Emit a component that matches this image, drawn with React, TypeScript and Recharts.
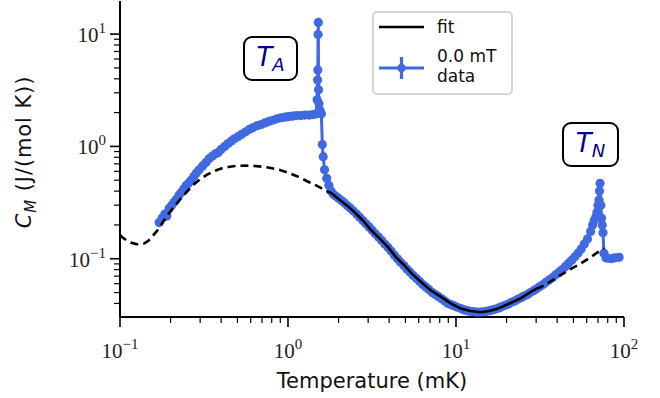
import React from 'react';
import { ComposedChart, Line, XAxis, YAxis } from 'recharts';

// measured heat capacity, 0.0 mT
const dataT = [
  0.171, 0.178, 0.185, 0.19, 0.196, 0.203, 0.21, 0.217, 0.225, 0.232, 0.24, 0.248, 0.256, 0.265, 0.275, 0.285,
  0.296, 0.31, 0.325, 0.34, 0.355, 0.37, 0.383, 0.4, 0.42, 0.44, 0.46, 0.48, 0.504, 0.53, 0.56, 0.59, 0.62,
  0.655, 0.69, 0.73, 0.77, 0.81, 0.86, 0.91, 0.96, 1.0, 1.06, 1.12, 1.19, 1.26, 1.34, 1.41, 1.47,
  1.49, 1.5, 1.505, 1.51, 1.515, 1.52, 1.53, 1.55, 1.58, 1.6, 1.62, 1.65, 1.7, 1.75, 1.8,
  1.86, 1.93, 2.0, 2.08, 2.16, 2.25, 2.35, 2.45, 2.56, 2.67, 2.79, 2.91, 3.04, 3.17, 3.31, 3.46, 3.61, 3.77,
  3.94, 4.11, 4.29, 4.48, 4.68, 4.89, 5.1, 5.33, 5.56, 5.81, 6.07, 6.34, 6.62, 6.91, 7.22, 7.54, 7.87, 8.22,
  8.58, 8.96, 9.36, 9.77, 10.2, 10.7, 11.2, 11.7, 12.2, 12.7, 13.3, 13.9, 14.5, 15.1, 15.8, 16.5, 17.2, 18.0,
  18.8, 19.6, 20.5, 21.4, 22.3, 23.3, 24.4, 25.4, 26.6, 27.7, 29.0, 30.2,
  31.6, 33.0, 34.4, 36.0, 37.6, 39.2, 41.0, 42.8, 44.7, 46.7, 48.8, 51.0, 53.2, 55.6, 58.0, 60.6, 63.3, 65.0,
  66.5, 68.0, 69.0, 70.0, 71.0, 71.5, 72.0, 72.8, 73.5, 74.2, 75.0, 76.0, 78.0, 80.0, 84.0, 88.0, 93.5,
];
const dataC = [
  0.21, 0.23, 0.25, 0.24, 0.28, 0.3, 0.32, 0.34, 0.37, 0.39, 0.42, 0.45, 0.47, 0.5, 0.54, 0.58,
  0.62, 0.67, 0.72, 0.78, 0.82, 0.86, 0.88, 0.94, 1.0, 1.06, 1.12, 1.17, 1.22, 1.28, 1.35, 1.42, 1.47,
  1.53, 1.56, 1.62, 1.67, 1.71, 1.76, 1.8, 1.82, 1.84, 1.86, 1.88, 1.88, 1.9, 1.9, 1.92, 1.95,
  2.6, 3.9, 4.8, 9.9, 12.7, 3.2, 2.4, 2.1, 1.95, 1.04, 0.81, 0.62, 0.52, 0.45, 0.4,
  0.375, 0.36, 0.345, 0.33, 0.315, 0.298, 0.282, 0.266, 0.25, 0.234, 0.219, 0.205, 0.192, 0.179, 0.167, 0.156, 0.145, 0.135,
  0.126, 0.117, 0.108, 0.1, 0.093, 0.087, 0.081, 0.076, 0.071, 0.067, 0.063, 0.059, 0.056, 0.053, 0.05, 0.048, 0.046, 0.044,
  0.042, 0.04, 0.039, 0.038, 0.037, 0.036, 0.035, 0.0345, 0.034, 0.0338, 0.0335, 0.0335, 0.0337, 0.034, 0.0345, 0.035, 0.0357, 0.0365,
  0.0375, 0.0385, 0.0395, 0.041, 0.042, 0.0435, 0.045, 0.0465, 0.048, 0.05, 0.052, 0.054,
  0.0565, 0.059, 0.062, 0.065, 0.068, 0.072, 0.076, 0.08, 0.085, 0.091, 0.097, 0.104, 0.112, 0.122, 0.135, 0.15, 0.175, 0.2,
  0.22, 0.235, 0.26, 0.3, 0.334, 0.4, 0.47, 0.3, 0.23, 0.2, 0.17, 0.112, 0.102, 0.101, 0.1, 0.102, 0.103,
];

// model fit
const fitT = [
  0.1, 0.105, 0.11, 0.117, 0.125, 0.132, 0.14, 0.148, 0.156, 0.165, 0.175, 0.185, 0.196, 0.21, 0.225, 0.24,
  0.26, 0.28, 0.3, 0.33, 0.36, 0.4, 0.45, 0.5, 0.56, 0.63, 0.7, 0.79, 0.88, 1.0, 1.15, 1.3, 1.45, 1.57, 1.7, 1.8,
  2.0, 2.25, 2.5, 2.8, 3.1, 3.5, 3.94, 4.4, 4.9, 5.5, 6.2, 7.0, 8.1, 9.3, 10.7, 12.2, 14.1, 16.0, 17.8, 20.5,
  24.4, 28, 30, 32, 37, 42, 48, 55.5, 62, 69, 76,
];
const fitC = [
  0.163, 0.152, 0.145, 0.139, 0.135, 0.134, 0.137, 0.145, 0.158, 0.175, 0.198, 0.225, 0.255, 0.29, 0.33, 0.37,
  0.42, 0.47, 0.51, 0.56, 0.6, 0.635, 0.66, 0.673, 0.675, 0.67, 0.66, 0.643, 0.62, 0.585, 0.537, 0.49, 0.455, 0.427, 0.4, 0.386,
  0.34, 0.297, 0.258, 0.218, 0.182, 0.152, 0.127, 0.103, 0.088, 0.073, 0.062, 0.053, 0.046, 0.04, 0.036, 0.0342, 0.0334, 0.0345, 0.036, 0.0395,
  0.0446, 0.051, 0.054, 0.056, 0.0635, 0.0715, 0.081, 0.091, 0.101, 0.113, 0.124,
];
// fitted range (solid); outside it the fit is extrapolated (dashed)
const fitRange = [1.8, 30];

const xTicks = [
  0.1, 0.2, 0.3, 0.4, 0.5, 0.6, 0.7, 0.8, 0.9, 1, 2, 3, 4, 5, 6, 7, 8, 9,
  10, 20, 30, 40, 50, 60, 70, 80, 90, 100,
];
const yTicks = [
  0.04, 0.05, 0.06, 0.07, 0.08, 0.09, 0.1, 0.2, 0.3, 0.4, 0.5, 0.6, 0.7, 0.8, 0.9,
  1, 2, 3, 4, 5, 6, 7, 8, 9, 10,
];
const xDomain = [0.1, 100];
const yDomain = [0.0303, 19.7];

const BLUE = '#4169E1';
const SERIF = '"Liberation Serif", "DejaVu Serif", serif';
const SANS = '"DejaVu Sans", sans-serif';

const toRows = (ts: number[], cs: number[]) => ts.map((t, i) => ({ t, c: cs[i] }));
const data = toRows(dataT, dataC);
const fit = toRows(fitT, fitC);
const fitLow = fit.filter(d => d.t <= fitRange[0]);
const fitMid = fit.filter(d => d.t >= fitRange[0] && d.t <= fitRange[1]);
const fitHigh = fit.filter(d => d.t >= fitRange[1]);

const isMajor = (v: number) => Math.abs(Math.log10(v) - Math.round(Math.log10(v))) < 1e-6;
const pow = (v: number) => {
  const e = Math.round(Math.log10(v));
  return e < 0 ? `\u2212${-e}` : `${e}`;
};

function XTick(props: any) {
  const { x, y, payload } = props;
  const major = isMajor(payload.value);
  return (
    <g>
      <line x1={x} x2={x} y1={y} y2={y + (major ? 10 : 6)} stroke="#000" strokeWidth={major ? 1.6 : 1.2} />
      {major && (
        <text x={x} y={y + 41} textAnchor="middle" fontFamily={SERIF} fontSize={21} fill="#222">
          10<tspan dy={-9} fontSize={15}>{pow(payload.value)}</tspan>
        </text>
      )}
    </g>
  );
}

function YTick(props: any) {
  const { x, y, payload } = props;
  const major = isMajor(payload.value);
  return (
    <g>
      <line x1={x} x2={x - (major ? 10 : 6)} y1={y} y2={y} stroke="#000" strokeWidth={major ? 1.6 : 1.2} />
      {major && (
        <text x={x - 14} y={y + 8} textAnchor="end" fontFamily={SERIF} fontSize={21} fill="#222">
          10<tspan dy={-9} fontSize={15}>{pow(payload.value)}</tspan>
        </text>
      )}
    </g>
  );
}

const boxStyle: React.CSSProperties = {
  position: 'absolute',
  border: '2.5px solid #000',
  borderRadius: 9,
  background: '#fff',
  color: '#00008B',
  fontFamily: SANS,
  fontStyle: 'italic',
  fontSize: 26,
  display: 'flex',
  alignItems: 'center',
  justifyContent: 'center',
  boxSizing: 'border-box',
};

export default function App() {
  return (
    <div style={{ position: 'absolute', left: 0, top: 0, width: 660, height: 398, background: '#fff' }}>
      <ComposedChart width={660} height={398} margin={{ top: 1, right: 36, bottom: 0, left: 0 }}>
        <XAxis
          xAxisId="b"
          dataKey="t"
          type="number"
          scale="log"
          domain={xDomain}
          allowDataOverflow
          ticks={xTicks}
          interval={0}
          tickSize={0}
          tickMargin={0}
          tickLine={false}
          tick={<XTick />}
          height={81}
          axisLine={{ stroke: '#000', strokeWidth: 2 }}
          label={{ value: 'Temperature (mK)', position: 'insideBottom', offset: 10, fontFamily: SANS, fontSize: 21, fill: '#111' }}
        />
        <XAxis
          xAxisId="top"
          orientation="top"
          type="number"
          scale="log"
          domain={xDomain}
          allowDataOverflow
          height={0}
          tick={false}
          tickLine={false}
          axisLine={{ stroke: '#000', strokeWidth: 2 }}
        />
        <YAxis
          yAxisId="l"
          dataKey="c"
          type="number"
          scale="log"
          domain={yDomain}
          allowDataOverflow
          ticks={yTicks}
          interval={0}
          tickSize={0}
          tickMargin={0}
          tickLine={false}
          tick={<YTick />}
          width={120}
          axisLine={{ stroke: '#000', strokeWidth: 2 }}
          label={{
            value: 'C\u2098 (J/(mol K))',
            content: () => (
              <text
                transform="translate(31,152) rotate(-90)"
                textAnchor="middle"
                fontFamily={SANS}
                fontSize={21}
                letterSpacing={0.9}
                fill="#111"
              >
                <tspan fontStyle="italic">C</tspan>
                <tspan fontStyle="italic" fontSize={15} dy={5}>M</tspan>
                <tspan dy={-5}>{'  (J/(mol K))'}</tspan>
              </text>
            ),
          }}
        />
        <YAxis
          yAxisId="r"
          orientation="right"
          type="number"
          scale="log"
          domain={yDomain}
          allowDataOverflow
          width={0}
          tick={false}
          tickLine={false}
          axisLine={{ stroke: '#000', strokeWidth: 2 }}
        />
        <Line
          xAxisId="b"
          yAxisId="l"
          data={data}
          dataKey="c"
          stroke={BLUE}
          strokeWidth={3}
          dot={{ r: 4.6, fill: BLUE, stroke: 'none' }}
          isAnimationActive={false}
        />
        <Line xAxisId="b" yAxisId="l" data={fitLow} dataKey="c" stroke="#000" strokeWidth={2.6} strokeDasharray="8 5" dot={false} zIndex={900} isAnimationActive={false} />
        <Line xAxisId="b" yAxisId="l" data={fitMid} dataKey="c" stroke="#000" strokeWidth={2.6} dot={false} zIndex={900} isAnimationActive={false} />
        <Line xAxisId="b" yAxisId="l" data={fitHigh} dataKey="c" stroke="#000" strokeWidth={2.6} strokeDasharray="8 5" dot={false} zIndex={900} isAnimationActive={false} />
      </ComposedChart>

      {/* annotations */}
      <div style={{ ...boxStyle, left: 243, top: 36, width: 55, height: 45 }}>
        <span>T<sub style={{ fontSize: 18, verticalAlign: -5 }}>A</sub></span>
      </div>
      <div style={{ ...boxStyle, left: 562, top: 122, width: 57, height: 45 }}>
        <span>T<sub style={{ fontSize: 18, verticalAlign: -5 }}>N</sub></span>
      </div>

      {/* legend */}
      <div
        style={{
          position: 'absolute',
          left: 372,
          top: 11,
          width: 141,
          height: 84,
          border: '2px solid #d4d4d4',
          borderRadius: 5,
          background: 'rgba(255,255,255,0.85)',
          boxSizing: 'border-box',
          fontFamily: SANS,
          fontSize: 17,
          color: '#111',
        }}
      >
        <svg width={60} height={84} style={{ position: 'absolute', left: 0, top: 0 }}>
          <line x1={5} x2={50} y1={14} y2={14} stroke="#000" strokeWidth={2.4} />
          <line x1={5} x2={50} y1={55} y2={55} stroke={BLUE} strokeWidth={3.2} />
          <line x1={27.5} x2={27.5} y1={44} y2={66} stroke={BLUE} strokeWidth={3.2} />
          <circle cx={27.5} cy={55} r={4.2} fill={BLUE} />
        </svg>
        <div style={{ position: 'absolute', left: 63, top: 3, lineHeight: '22px' }}>fit</div>
        <div style={{ position: 'absolute', left: 63, top: 33, lineHeight: '20px' }}>
          0.0 mT
          <br />
          data
        </div>
      </div>
    </div>
  );
}
